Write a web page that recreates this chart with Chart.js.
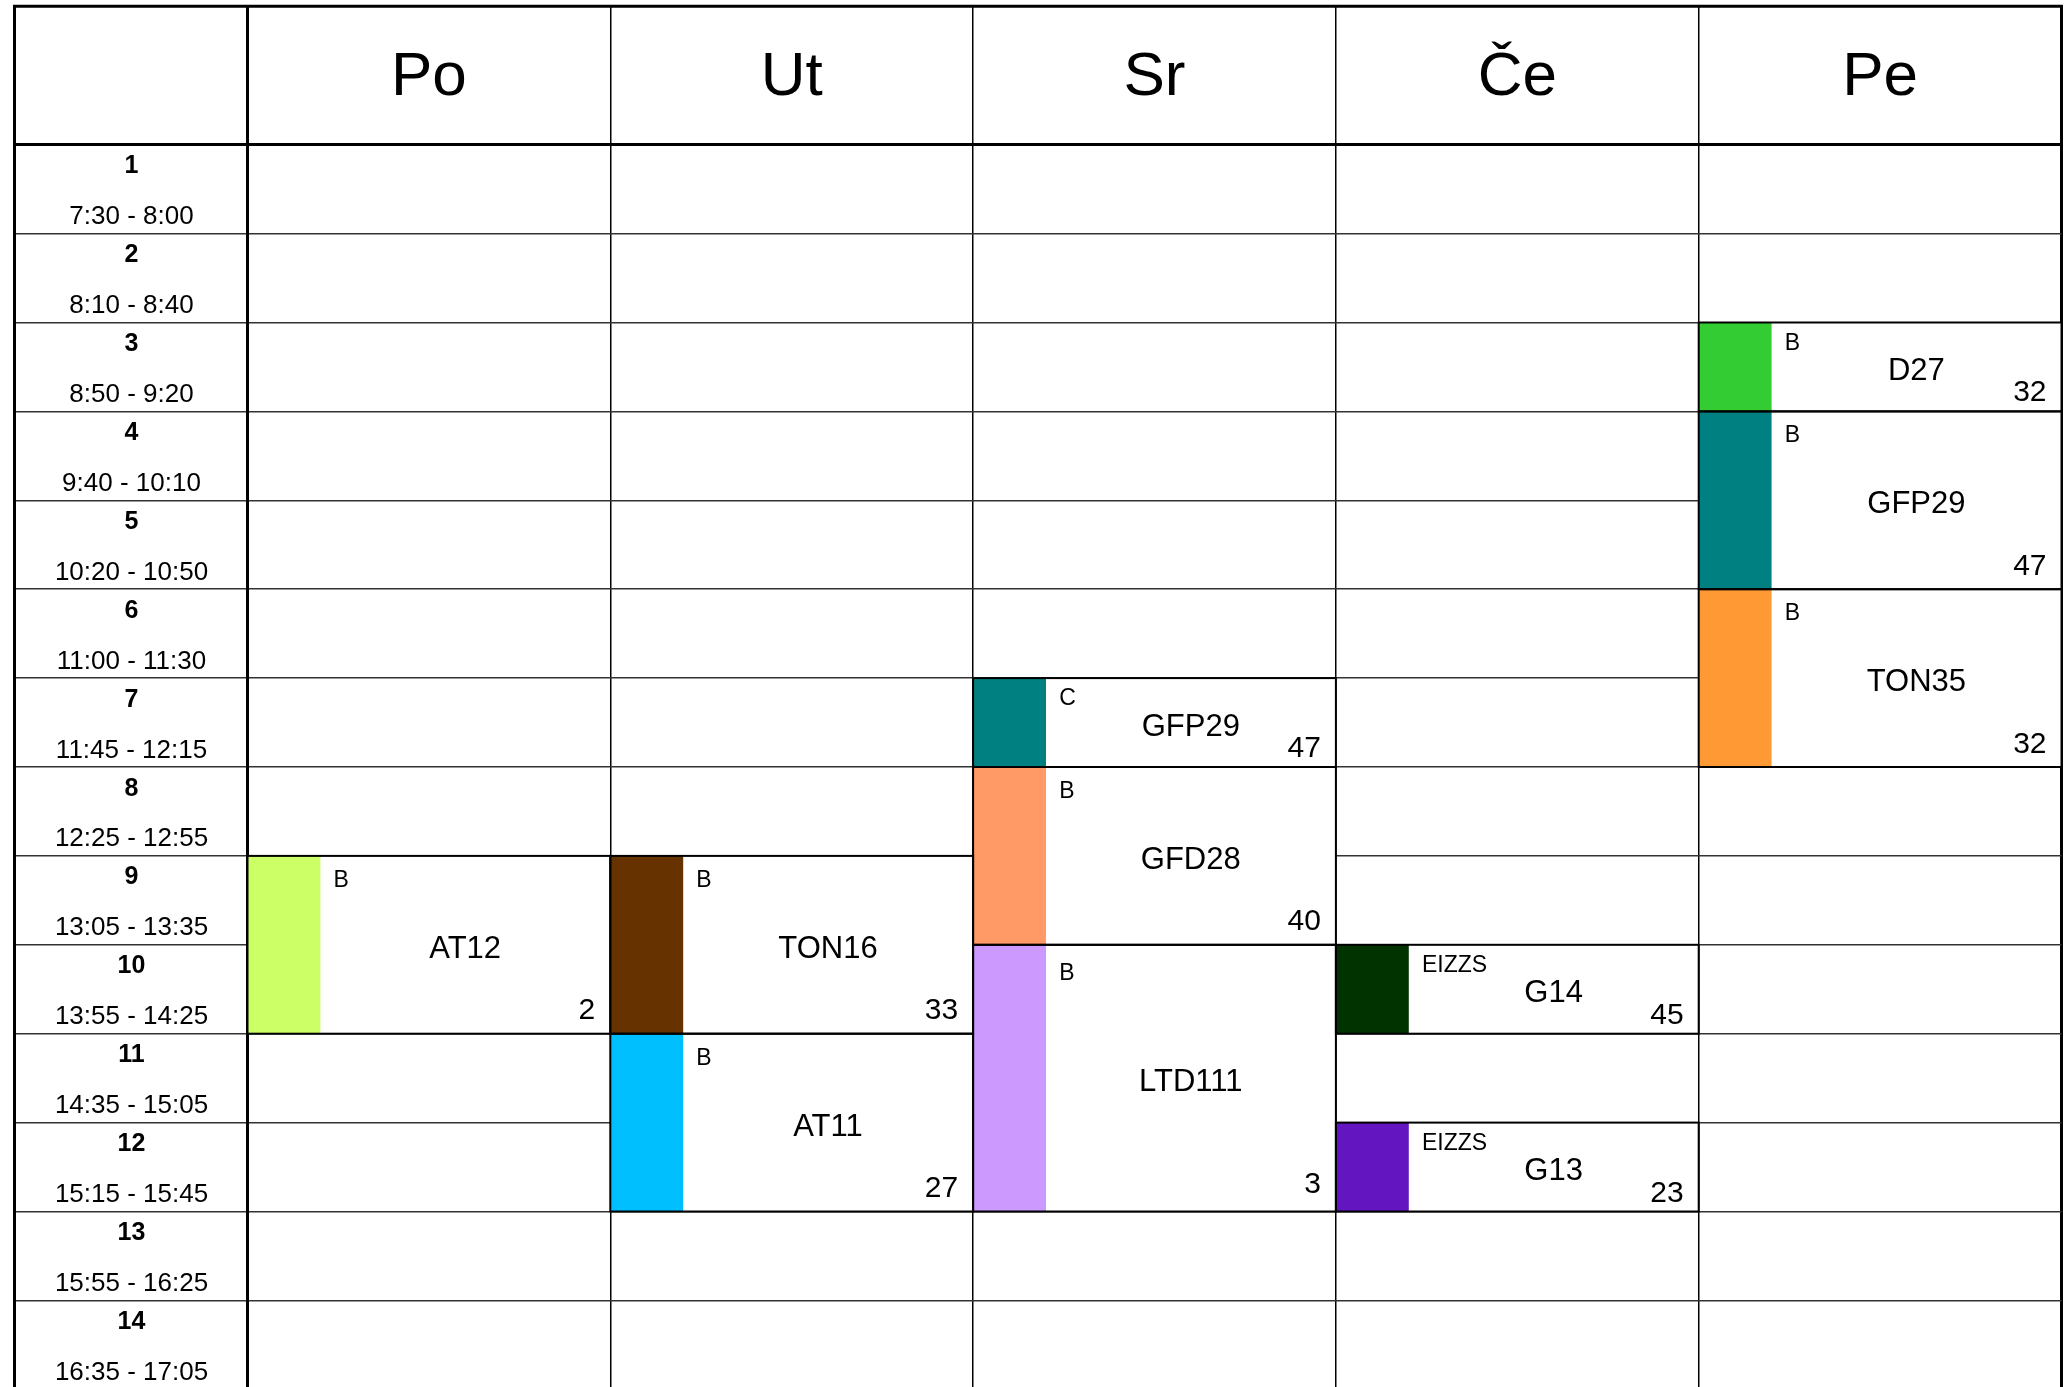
<!DOCTYPE html>
<html>
<head>
<meta charset="utf-8">
<script src="https://cdn.jsdelivr.net/npm/chart.js@4/dist/chart.umd.min.js"></script>
<style>
html,body{margin:0;padding:0;background:#fff;overflow:hidden}
#wrap{width:2066px;height:1392px}
</style>
</head>
<body>
<div id="wrap"><canvas id="c" width="2066" height="1392"></canvas></div>
<script>
// ---- data ----
const days = ['Po', 'Ut', 'Sr', 'Če', 'Pe'];
const periodNumbers = ['1','2','3','4','5','6','7','8','9','10','11','12','13','14'];
const periodTimes = ['7:30 - 8:00','8:10 - 8:40','8:50 - 9:20','9:40 - 10:10','10:20 - 10:50',
  '11:00 - 11:30','11:45 - 12:15','12:25 - 12:55','13:05 - 13:35','13:55 - 14:25',
  '14:35 - 15:05','15:15 - 15:45','15:55 - 16:25','16:35 - 17:05'];

const blockDay         = ['Po','Ut','Ut','Sr','Sr','Sr','Če','Če','Pe','Pe','Pe'];
const blockFirstPeriod = [9, 9, 11, 7, 8, 10, 10, 12, 3, 4, 6];
const blockLastPeriod  = [10, 10, 12, 7, 9, 12, 10, 12, 3, 5, 7];
const blockSubject     = ['AT12','TON16','AT11','GFP29','GFD28','LTD111','G14','G13','D27','GFP29','TON35'];
const blockGroup       = ['B','B','B','C','B','B','EIZZS','EIZZS','B','B','B'];
const blockRoom        = ['2','33','27','47','40','3','45','23','32','47','32'];
const blockColor       = ['#CCFF66','#663300','#00BFFF','#008080','#FF9966','#CC99FF','#003300','#6316BF','#33CC33','#008080','#FF9933'];

// strip sub-axis: each day split into 5 slots, colour strip sits in the first slot
const stripSlots = 5;
const stripLabels = days.flatMap(d => Array.from({length: stripSlots}, (_, k) => d + '#' + k));

const FONT = '"Liberation Sans", Arial, Helvetica, sans-serif';
Chart.defaults.font.family = FONT;

const span = (i) => [blockFirstPeriod[i] - 1, blockLastPeriod[i]];
const boxData = blockDay.map((d, i) => ({x: d, y: span(i)}));
const stripData = blockDay.map((d, i) => ({x: d + '#0', y: span(i)}));

const blockTextPlugin = {
  id: 'blockText',
  afterDatasetsDraw(chart) {
    const ctx = chart.ctx;
    const boxes = chart.getDatasetMeta(1).data;
    const strips = chart.getDatasetMeta(0).data;
    ctx.save();
    boxes.forEach((el, i) => {
      const p = el.getProps(['x', 'y', 'base', 'width'], true);
      const top = Math.min(p.y, p.base), bottom = Math.max(p.y, p.base), h = bottom - top;
      const left = p.x - p.width / 2, right = p.x + p.width / 2;
      // outline centred on the block edges
      ctx.strokeStyle = '#000';
      ctx.lineWidth = 2;
      ctx.strokeRect(left, top, right - left, h);
    });
    ctx.fillStyle = '#000';
    ctx.textBaseline = 'alphabetic';
    boxes.forEach((el, i) => {
      const p = el.getProps(['x', 'y', 'base', 'width'], true);
      const top = Math.min(p.y, p.base), bottom = Math.max(p.y, p.base), h = bottom - top;
      const right = p.x + p.width / 2;
      const s = strips[i].getProps(['x', 'width'], true);
      const stripRight = s.x + s.width / 2;
      ctx.font = '23px ' + FONT;
      ctx.textAlign = 'left';
      ctx.fillText(blockGroup[i], stripRight + 13.5, top + 23 + h * 0.045);
      ctx.font = '31px ' + FONT;
      ctx.textAlign = 'center';
      ctx.fillText(blockSubject[i], (stripRight + right) / 2, (top + bottom) / 2 + 13);
      ctx.font = '30px ' + FONT;
      ctx.textAlign = 'right';
      ctx.fillText(blockRoom[i], right - 15, bottom - 5.5 - h * 0.05);
    });
    ctx.restore();
  }
};

const rowLabelPlugin = {
  id: 'rowLabels',
  afterDraw(chart) {
    const ctx = chart.ctx;
    const ys = chart.scales.y;
    const xs = chart.scales.x;
    const cx = (ys.left + ys.right) / 2 + 0.5;
    ctx.save();
    ctx.fillStyle = '#000';
    ctx.textAlign = 'center';
    ctx.textBaseline = 'alphabetic';
    periodNumbers.forEach((n, i) => {
      const top = ys.getPixelForValue(i);
      const bottom = ys.getPixelForValue(i + 1);
      ctx.font = 'bold 25px ' + FONT;
      ctx.fillText(n, cx, top + 28.5);
      ctx.font = '26px ' + FONT;
      ctx.fillText(periodTimes[i], cx, bottom - 9.5);
    });
    // outer frame (top and left edges)
    ctx.strokeStyle = '#000';
    ctx.lineWidth = 3;
    ctx.lineCap = 'square';
    ctx.beginPath();
    ctx.moveTo(ys.left, xs.top);
    ctx.lineTo(xs.right, xs.top);
    ctx.moveTo(ys.left, xs.top);
    ctx.lineTo(ys.left, chart.chartArea.bottom + 10);
    ctx.stroke();
    ctx.restore();
  }
};

new Chart(document.getElementById('c'), {
  type: 'bar',
  data: {
    labels: days,
    datasets: [
      { label: 'strip', data: stripData, xAxisID: 'xs', yAxisID: 'y', order: 0, grouped: false,
        backgroundColor: blockColor, borderWidth: 0,
        barPercentage: 1, categoryPercentage: 1 },
      { label: 'box', data: boxData, xAxisID: 'x', yAxisID: 'y', order: 1, grouped: false,
        backgroundColor: '#ffffff', borderWidth: 0,
        barPercentage: 1, categoryPercentage: 1 }
    ]
  },
  options: {
    responsive: false,
    animation: false,
    events: [],
    layout: { padding: { left: 14.5, top: 6.3, right: 4.5, bottom: 2.7 } },
    plugins: { legend: { display: false }, tooltip: { enabled: false }, title: { display: false } },
    scales: {
      x: {
        type: 'category',
        labels: days,
        position: 'top',
        offset: true,
        grid: {
          offset: true,
          display: true,
          drawOnChartArea: true,
          drawTicks: true,
          tickLength: 138.4,
          color: '#000',
          lineWidth: (c) => (c.type !== 'tick' || c.index === 0) ? 3 : 1.5
        },
        border: { display: true, color: '#000', width: 3 },
        ticks: {
          color: '#000',
          font: { size: 62, family: FONT },
          padding: -108.6,
          maxRotation: 0,
          minRotation: 0,
          autoSkip: false
        },
        afterFit: (s) => { s.height = 138.4; }
      },
      xs: {
        type: 'category',
        labels: stripLabels,
        display: false,
        offset: true,
        grid: { offset: true }
      },
      y: {
        type: 'linear',
        position: 'left',
        reverse: true,
        min: 0,
        max: periodNumbers.length,
        grid: {
          display: true,
          drawOnChartArea: true,
          drawTicks: true,
          tickLength: 233,
          color: (c) => (c.tick && c.tick.value === 0) ? '#000' : '#333',
          lineWidth: (c) => (c.tick && c.tick.value === 0) ? 3 : 1.5
        },
        border: { display: true, color: '#000', width: 3 },
        ticks: { display: false, stepSize: 1 },
        afterFit: (s) => { s.width = 233; }
      }
    }
  },
  plugins: [blockTextPlugin, rowLabelPlugin]
});
</script>
</body>
</html>
